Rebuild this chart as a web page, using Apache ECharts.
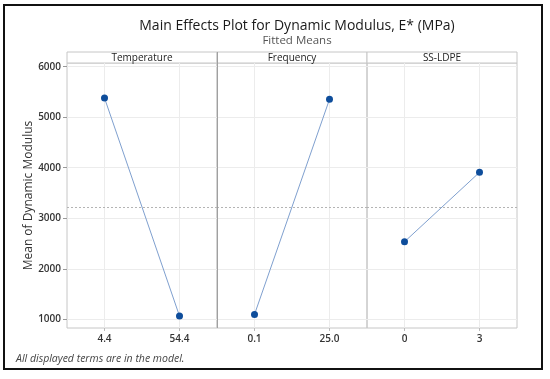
<!DOCTYPE html>
<html>
<head>
<meta charset="utf-8">
<script src="https://cdn.jsdelivr.net/npm/echarts@6/dist/echarts.min.js"></script>
<style>
html,body{margin:0;padding:0;background:#fff;}
#chart{width:550px;height:379px;}
</style>
</head>
<body>
<div id="chart"></div>
<script>
const factors = ['Temperature', 'Frequency', 'SS-LDPE'];
const levelsTemperature = ['4.4', '54.4'];
const levelsFrequency = ['0.1', '25.0'];
const levelsSSLDPE = ['0', '3'];
const meansTemperature = [5380, 1065];
const meansFrequency = [1097, 5354];
const meansSSLDPE = [2535, 3909];
const overallMean = 3224;
const yTicks = [1000, 2000, 3000, 4000, 5000, 6000];
const yMin = 828;
const yMax = 6073;

const levels = [levelsTemperature, levelsFrequency, levelsSSLDPE];
const means = [meansTemperature, meansFrequency, meansSSLDPE];

const FONT = 'Open Sans';
const panelLeft = [67, 217, 367];
const panelW = 150;
const plotTop = 63, plotBottom = 328, stripTop = 52;

const chart = echarts.init(document.getElementById('chart'), null, {renderer: 'canvas'});

const grids = panelLeft.map(l => ({
  left: l, width: panelW, top: plotTop, height: plotBottom - plotTop,
  show: true, borderColor: '#c6c6c6', borderWidth: 1, containLabel: false
}));

const xAxes = levels.map((lv, i) => ({
  type: 'category', gridIndex: i, data: lv, boundaryGap: true,
  axisLine: {show: false},
  axisTick: {show: true, alignWithLabel: true, length: 3, lineStyle: {color: '#bbb'}},
  axisLabel: {color: '#333', fontSize: 10, fontWeight: 600, fontFamily: FONT, margin: 6},
  splitLine: {show: true, alignWithLabel: true, lineStyle: {color: '#ececec', width: 1}}
}));

const yAxes = levels.map((lv, i) => ({
  type: 'value', gridIndex: i, min: yMin, max: yMax,
  axisLine: {show: false},
  axisTick: {show: i === 0, length: 4, customValues: yTicks, lineStyle: {color: '#999'}},
  axisLabel: {
    show: i === 0, color: '#333', fontSize: 10, fontWeight: 600, fontFamily: FONT, margin: 6,
    customValues: yTicks, formatter: v => String(v)
  },
  splitLine: {show: true, lineStyle: {color: '#ececec', width: 1}},
  name: i === 0 ? 'Mean of Dynamic Modulus' : '',
  nameLocation: 'middle', nameGap: 29,
  nameTextStyle: {fontSize: 12, color: '#333', fontFamily: FONT}
}));

const series = means.map((m, i) => ({
  type: 'line', xAxisIndex: i, yAxisIndex: i, data: m,
  symbol: 'circle', symbolSize: 7, showSymbol: true,
  lineStyle: {color: '#7fa0cf', width: 1},
  itemStyle: {color: '#0e4d9b'},
  markLine: {
    silent: true, symbol: 'none', label: {show: false},
    lineStyle: {color: '#b4b4b4', type: [2, 2], width: 1},
    data: [{yAxis: overallMean}]
  },
  z: 5
}));

const graphics = [
  {type: 'rect', shape: {x: 4, y: 5, width: 538, height: 364},
   style: {fill: 'none', stroke: '#111', lineWidth: 2}, z: 100}
];
factors.forEach((f, i) => {
  graphics.push({
    type: 'rect', shape: {x: panelLeft[i], y: stripTop, width: panelW, height: plotTop - stripTop},
    style: {fill: '#fff', stroke: '#c6c6c6', lineWidth: 1}
  });
  graphics.push({
    type: 'text', x: panelLeft[i] + panelW / 2, y: stripTop + (plotTop - stripTop) / 2 + 0.5,
    style: {text: f, fill: '#222', fontSize: 10, fontFamily: FONT, align: 'center', verticalAlign: 'middle'}
  });
});
graphics.push({
  type: 'text', x: 16, y: 359,
  style: {text: 'All displayed terms are in the model.', fill: '#444', fontSize: 10.5, fontStyle: 'italic',
          fontFamily: FONT, align: 'left', verticalAlign: 'middle'}
});
graphics.push({type: 'line', shape: {x1: 217.5, y1: stripTop, x2: 217.5, y2: plotBottom}, style: {stroke: '#a0a0a0', lineWidth: 1}, z: 10});

chart.setOption({
  animation: false,
  backgroundColor: '#fff',
  title: {
    text: 'Main Effects Plot for Dynamic Modulus, E* (MPa)',
    subtext: 'Fitted Means',
    left: 292, textAlign: 'center', top: 14, itemGap: 2,
    textStyle: {fontSize: 14, color: '#1a1a1a', fontWeight: 'normal', fontFamily: FONT},
    subtextStyle: {fontSize: 11.5, color: '#555', fontFamily: FONT}
  },
  grid: grids,
  xAxis: xAxes,
  yAxis: yAxes,
  series: series,
  graphic: graphics
});
</script>
</body>
</html>
